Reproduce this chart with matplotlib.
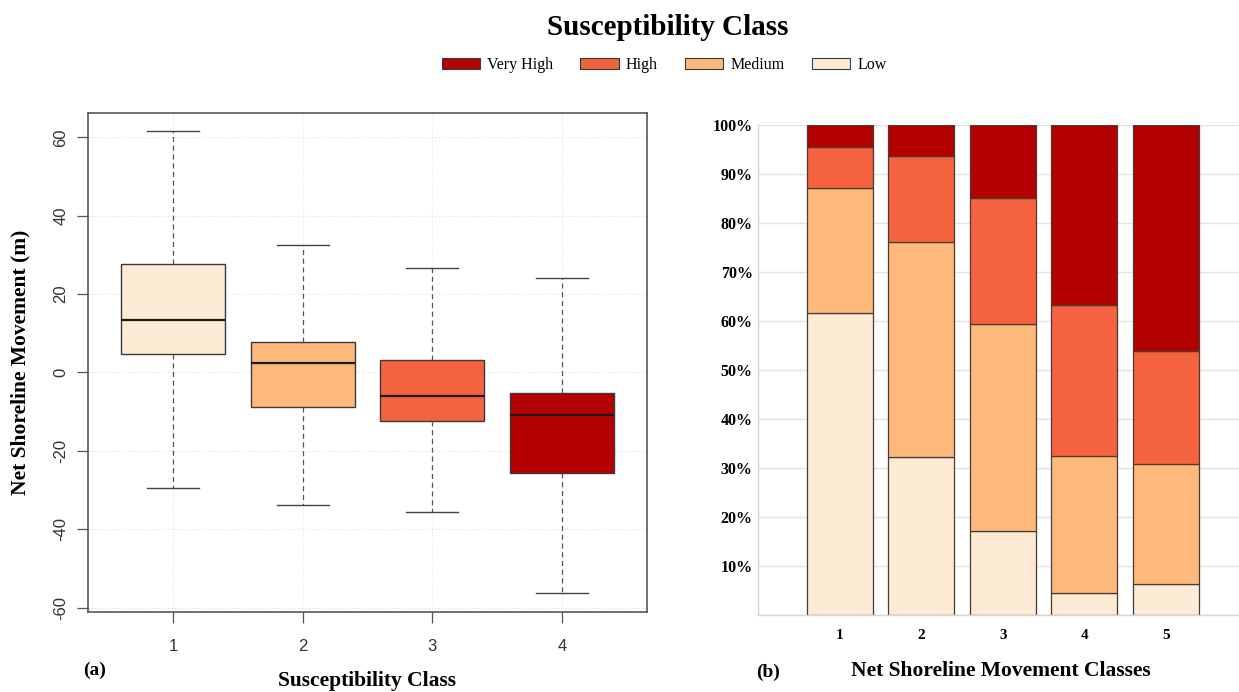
import matplotlib
matplotlib.use("Agg")
import matplotlib.pyplot as plt
from matplotlib.patches import Patch
import numpy as np

# Panel (a): box-plot summaries of net shoreline movement per susceptibility class
susc_classes = ["1", "2", "3", "4"]
whisker_low = [-29.6, -33.8, -35.5, -56.3]
q1 = [4.6, -8.9, -12.4, -25.7]
median = [13.3, 2.3, -6.1, -10.8]
q3 = [27.6, 7.7, 3.1, -5.3]
whisker_high = [61.6, 32.6, 26.6, 24.2]

# Panel (b): share (%) of each susceptibility class within each NSM class
nsm_classes = ["1", "2", "3", "4", "5"]
low_pct = [61.7, 32.2, 17.1, 4.5, 6.3]
medium_pct = [25.4, 44.0, 42.3, 28.0, 24.5]
high_pct = [8.4, 17.4, 25.6, 30.7, 23.1]
very_high_pct = [4.5, 6.4, 15.0, 36.8, 46.1]

pct_ticks = [10, 20, 30, 40, 50, 60, 70, 80, 90, 100]
nsm_ticks = [-60, -40, -20, 0, 20, 40, 60]

legend_labels = ["Very High", "High", "Medium", "Low"]
col_low = "#FDEAD4"
col_med = "#FDB97B"
col_high = "#F4623F"
col_vhigh = "#B30000"
box_colors = [col_low, col_med, col_high, col_vhigh]

serif = ["Liberation Serif", "DejaVu Serif"]
sans = ["Liberation Sans", "DejaVu Sans"]

fig = plt.figure(figsize=(12.39, 6.92), dpi=100)

# ---------------- (a) box plots ----------------
ax1 = fig.add_axes([0.0708, 0.1152, 0.4516, 0.7219])
stats = []
for i in range(len(susc_classes)):
    stats.append(dict(med=median[i], q1=q1[i], q3=q3[i],
                      whislo=whisker_low[i], whishi=whisker_high[i],
                      fliers=[], label=susc_classes[i]))
pos = np.arange(1, len(susc_classes) + 1)

# faint dotted reference grid
for y in nsm_ticks:
    ax1.axhline(y, color="#dcdcdc", lw=0.8, ls=(0, (1, 2)), zorder=0)
for x in pos:
    ax1.axvline(x, color="#e4e4e4", lw=0.8, ls=(0, (1, 2)), zorder=0)

bp = ax1.bxp(stats, positions=pos, widths=0.8, patch_artist=True,
             showfliers=False,
             boxprops=dict(edgecolor="#3a3a3a", linewidth=1.0),
             medianprops=dict(color="#1a1a1a", linewidth=1.6),
             whiskerprops=dict(color="#555555", linewidth=0.9, linestyle=(0, (4, 3))),
             capprops=dict(color="#444444", linewidth=1.0),
             capwidths=0.4)
for patch, c in zip(bp["boxes"], box_colors):
    patch.set_facecolor(c)

ax1.set_xlim(0.34, 4.66)
ax1.set_ylim(-61.2, 66.3)
ax1.set_xticks(pos)
ax1.set_xticklabels(susc_classes, family=sans, fontsize=12, color="#333333")
ax1.set_yticks(nsm_ticks)
ax1.set_yticklabels([str(v) for v in nsm_ticks], family=sans, fontsize=12,
                    color="#333333", rotation=90, va="center")
ax1.tick_params(axis="both", length=8, width=0.9, color="#555555")
ax1.tick_params(axis="x", pad=11)
ax1.tick_params(axis="y", pad=6)
for s in ax1.spines.values():
    s.set_color("#4a4a4a")
    s.set_linewidth(1.1)
fig.text(0.0165, 0.476, "Net Shoreline Movement (m)", family=serif, fontsize=15.5,
         fontweight="bold", rotation=90, ha="center", va="center")
fig.text(0.2966, 0.016, "Susceptibility Class", family=serif, fontsize=15.5,
         fontweight="bold", ha="center", va="center")
fig.text(0.0766, 0.032, "(a)", family=serif, fontsize=14, fontweight="bold",
         ha="center", va="center")

# ---------------- (b) stacked percentage bars ----------------
ax2 = fig.add_axes([0.612, 0.1113, 0.388, 0.7081])
xb = np.arange(1, len(nsm_classes) + 1)
for y in [0] + pct_ticks:
    ax2.axhline(y, color="#e3e3e3", lw=1.0, zorder=0)
bottom = np.zeros(len(nsm_classes))
for vals, c in [(low_pct, col_low), (medium_pct, col_med),
                (high_pct, col_high), (very_high_pct, col_vhigh)]:
    ax2.bar(xb, vals, bottom=bottom, width=0.81, color=c,
            edgecolor="#4a3a30", linewidth=0.9, zorder=2)
    bottom = bottom + np.array(vals)

ax2.set_xlim(0.0, 5.9)
ax2.set_ylim(0, 100)
ax2.set_xticks(xb)
ax2.set_xticklabels(nsm_classes, family=serif, fontsize=11, fontweight="bold")
ax2.set_yticks(pct_ticks)
ax2.set_yticklabels([f"{v}%" for v in pct_ticks], family=serif, fontsize=11.5,
                    fontweight="bold")
ax2.tick_params(axis="both", length=0)
ax2.tick_params(axis="x", pad=10)
ax2.tick_params(axis="y", pad=4)
for k in ["top", "right"]:
    ax2.spines[k].set_visible(False)
for k in ["left", "bottom"]:
    ax2.spines[k].set_color("#d6d6d6")
    ax2.spines[k].set_linewidth(1.0)
fig.text(0.8075, 0.031, "Net Shoreline Movement Classes", family=serif,
         fontsize=15.5, fontweight="bold", ha="center", va="center")
fig.text(0.62, 0.029, "(b)", family=serif, fontsize=14, fontweight="bold",
         ha="center", va="center")

# ---------------- shared title and legend ----------------
fig.text(0.539, 0.96, "Susceptibility Class", family=serif, fontsize=21,
         fontweight="bold", ha="center", va="center")
handles = [Patch(facecolor=c, edgecolor="#3a3a3a", linewidth=0.8)
           for c in [col_vhigh, col_high, col_med, col_low]]
fig.legend(handles, legend_labels, loc="center", bbox_to_anchor=(0.536, 0.906),
           ncol=4, frameon=False, prop=dict(family=serif, size=11.5),
           handlelength=2.4, handleheight=0.75, handletextpad=0.45,
           columnspacing=1.7)

fig.savefig("out.png", dpi=100, facecolor="white")
